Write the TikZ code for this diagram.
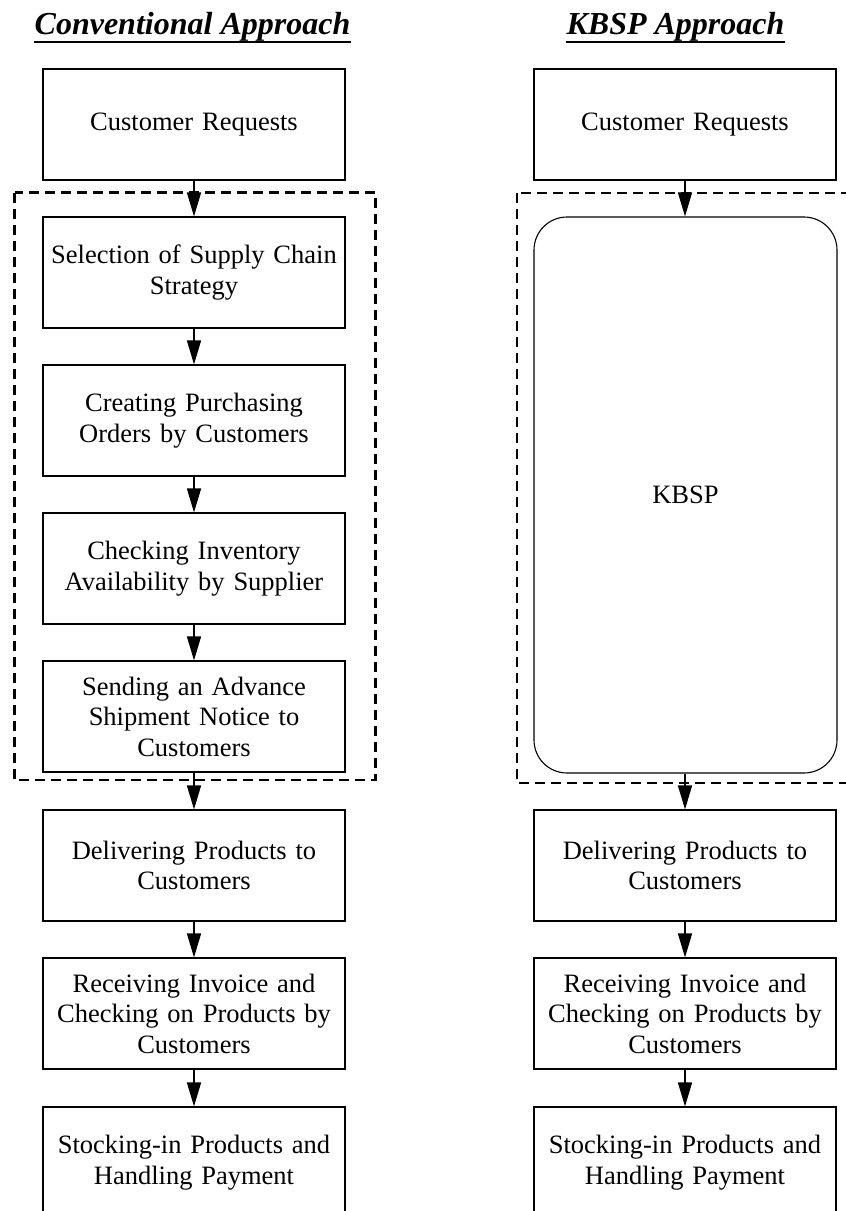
\documentclass[tikz,border=0pt]{standalone}
\usepackage{fontspec}
\setmainfont{Liberation Serif}
\usetikzlibrary{arrows.meta}
\begin{document}
\begin{tikzpicture}[x=1pt,y=-1pt,
  stepbox/.style={draw,line width=1.1pt,minimum width=302pt,minimum height=111pt,
    text width=290pt,align=center,inner sep=0pt,font=\fontsize{26.5}{30.5}\selectfont},
  kbspbox/.style={draw,line width=1.1pt,rounded corners=33pt,minimum width=303pt,
    minimum height=556pt,inner sep=0pt,font=\fontsize{26.5}{30.5}\selectfont},
  flow/.style={line width=1.4pt,-{Triangle[width=14pt,length=24pt]}},
  group/.style={draw,line width=2.6pt,dash pattern=on 10pt off 6pt},
  heading/.style={inner sep=0pt,font=\fontsize{32}{36}\selectfont\bfseries\itshape},
  headline/.style={line width=2.6pt}]
\useasboundingbox (0,0) rectangle (846,1211);
\clip (0,0) rectangle (846,1211);

% column headings
\node[heading,anchor=base] (hl) at (192.5,34) {Conventional Approach};
\node[heading,anchor=base] (hr) at (675.5,34) {KBSP Approach};
\draw[headline] ([yshift=-1pt]hl.south west) -- ([yshift=-1pt]hl.south east);
\draw[headline] ([yshift=-1pt]hr.south west) -- ([yshift=-1pt]hr.south east);

% dashed groupings
\draw[group] (14.7,192.7) rectangle (375.6,780);
\draw[group] (517,193) rectangle (870,783);

% conventional approach
\node[stepbox] (l1) at (194,124.5) {Customer Requests};
\node[stepbox] (l2) at (194,272.5) {Selection of Supply Chain\\Strategy};
\node[stepbox] (l3) at (194,420.5) {Creating Purchasing\\Orders by Customers};
\node[stepbox] (l4) at (194,568.5) {Checking Inventory\\Availability by Supplier};
\node[stepbox] (l5) at (194,716.5) {Sending an Advance\\Shipment Notice to\\Customers};
\node[stepbox] (l6) at (194,865.5) {Delivering Products to\\Customers};
\node[stepbox] (l7) at (194,1013.5) {Receiving Invoice and\\Checking on Products by\\Customers};
\node[stepbox] (l8) at (194,1162.5) {Stocking-in Products and\\Handling Payment};

% KBSP approach
\node[stepbox] (r1) at (685,124.5) {Customer Requests};
\node[kbspbox] (r2) at (685.5,495) {KBSP};
\node[stepbox] (r3) at (685,865.5) {Delivering Products to\\Customers};
\node[stepbox] (r4) at (685,1013.5) {Receiving Invoice and\\Checking on Products by\\Customers};
\node[stepbox] (r5) at (685,1162.5) {Stocking-in Products and\\Handling Payment};

% connectors
\foreach \a/\b in {l1/l2,l2/l3,l3/l4,l4/l5,l5/l6,l6/l7,l7/l8}
  \draw[flow] (\a.south) -- (\b.north);
\draw[flow] (r1.south) -- (r1.south |- r2.north);
\draw[flow] (r1.south |- r2.south) -- (r3.north);
\foreach \a/\b in {r3/r4,r4/r5}
  \draw[flow] (\a.south) -- (\b.north);
\end{tikzpicture}
\end{document}
